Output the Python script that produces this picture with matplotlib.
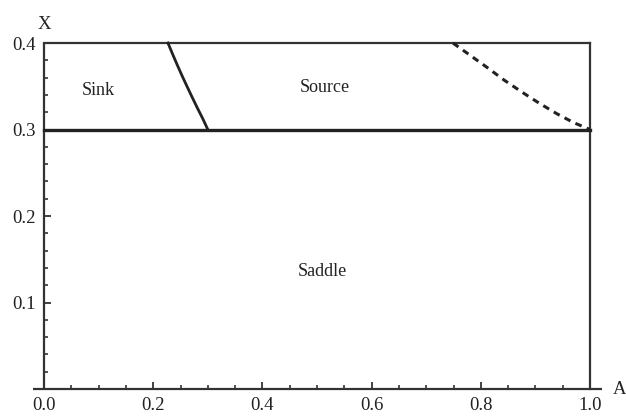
import matplotlib
matplotlib.use("Agg")
import matplotlib.pyplot as plt
from matplotlib.ticker import MultipleLocator

plt.rcParams['font.family'] = ['Liberation Serif', 'DejaVu Serif']

# Boundary data
sink_curve_A = [0.2270, 0.2353, 0.2438, 0.2526, 0.2618, 0.2712, 0.2808, 0.2908, 0.3000]
sink_curve_X = [0.4000, 0.3875, 0.3750, 0.3625, 0.3500, 0.3375, 0.3250, 0.3125, 0.3000]
dash_curve_A = [0.749, 0.780, 0.811, 0.843, 0.876, 0.908, 0.940, 0.970, 1.000]
dash_curve_X = [0.400, 0.386, 0.372, 0.357, 0.343, 0.330, 0.318, 0.308, 0.300]
hline_X = 0.3
region_labels = ["Sink", "Source", "Saddle"]
region_A = [0.10, 0.515, 0.51]
region_X = [0.345, 0.348, 0.136]

fig = plt.figure(figsize=(6.26, 4.16), dpi=100)
ax = fig.add_axes([0.0703, 0.0649, 0.8722, 0.8317])
ax.set_xlim(0, 1)
ax.set_ylim(0, 0.4)
for s in ax.spines.values():
    s.set_visible(False)

c = '#333333'
# axes lines
ax.plot([-0.02, 1.022], [0, 0], color=c, lw=1.6, clip_on=False, solid_capstyle='butt')
ax.plot([0, 0], [0, 0.4], color=c, lw=1.6, clip_on=False, solid_capstyle='butt')
# box
ax.plot([0, 1], [0.4, 0.4], color=c, lw=1.6, clip_on=False)
ax.plot([1, 1], [0, 0.4], color=c, lw=1.6, clip_on=False)
ax.plot([0, 1], [hline_X, hline_X], color='#222222', lw=2.4, clip_on=False)

ax.plot(sink_curve_A, sink_curve_X, color='#222222', lw=2.0, clip_on=False)
ax.plot(dash_curve_A, dash_curve_X, color='#222222', lw=2.2, ls=(0, (2.2, 1.8)), clip_on=False)

for lab, a, x in zip(region_labels, region_A, region_X):
    ax.text(a, x, lab, ha='center', va='center', fontsize=13, color='#222222')

ax.xaxis.set_major_locator(MultipleLocator(0.2))
ax.xaxis.set_minor_locator(MultipleLocator(0.05))
ax.yaxis.set_major_locator(MultipleLocator(0.1))
ax.yaxis.set_minor_locator(MultipleLocator(0.02))
ax.xaxis.set_major_formatter(plt.FuncFormatter(lambda v, p: f"{v:.1f}"))
ax.yaxis.set_major_formatter(plt.FuncFormatter(lambda v, p: "" if abs(v) < 1e-9 else f"{v:.1f}"))
ax.tick_params(which='both', direction='in', color=c, labelsize=13.5, labelcolor='#222222')
ax.tick_params(which='major', length=5, width=1.3, pad=6)
ax.tick_params(which='minor', length=3, width=1.2)
ax.tick_params(axis='y', which='both', left=True, right=False)
ax.tick_params(axis='x', which='both', bottom=True, top=False)

ax.text(0.0, 1.03, "X", transform=ax.transAxes, ha='center', va='bottom', fontsize=13.5, color='#222222')
ax.text(1.055, 0.0, "A", transform=ax.transAxes, ha='center', va='center', fontsize=13.5, color='#222222')

fig.savefig("out.png", dpi=100)
